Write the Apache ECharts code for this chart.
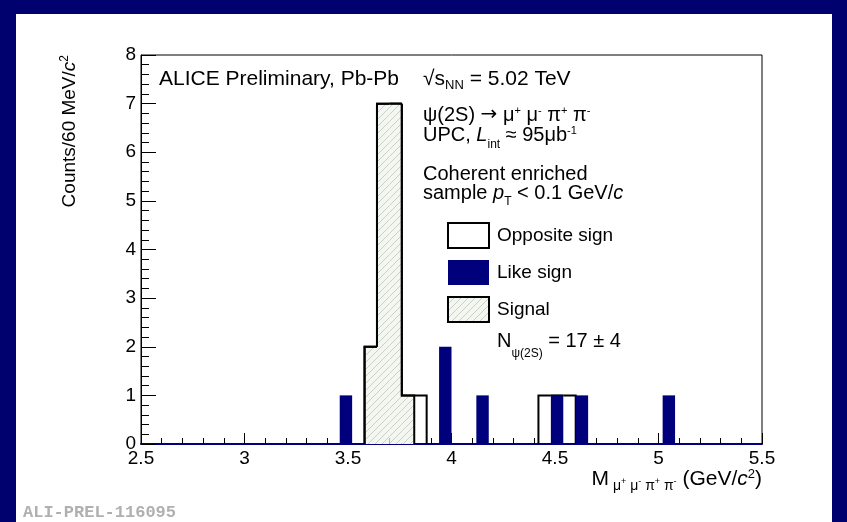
<!DOCTYPE html>
<html><head><meta charset="utf-8">
<script src="https://cdn.jsdelivr.net/npm/echarts@6/dist/echarts.min.js"></script>
<style>html,body{margin:0;padding:0;background:#00006e;}#c{width:847px;height:522px;}</style>
</head><body><div id="c"></div>
<script>
// ---- data (60 MeV bins, low edges in GeV/c^2) ----
const binWidth = 0.06;
const oppositeSignEdges  = [3.58, 3.64, 3.70, 3.76, 3.82, 4.42, 4.48, 4.54];
const oppositeSignCounts = [2, 7, 7, 1, 1, 1, 1, 1];
const likeSignEdges      = [3.46, 3.94, 4.12, 4.48, 4.60, 5.02];
const likeSignCounts     = [1, 2, 1, 1, 1, 1];
const signalEdges        = [3.58, 3.64, 3.70, 3.76];
const signalCounts       = [2, 7, 7, 1];
const seriesNames = ['Opposite sign', 'Like sign', 'Signal'];

const FF = 'Liberation Sans, Arial, Helvetica, sans-serif';
const NAVY = '#00007c';

function hatchCanvas() {
  const s = 7, cv = document.createElement('canvas');
  cv.width = s; cv.height = s;
  const g = cv.getContext('2d');
  g.fillStyle = '#f3f6f1'; g.fillRect(0, 0, s, s);
  g.strokeStyle = '#c6d3c1'; g.lineWidth = 1;
  g.beginPath();
  g.moveTo(0, s); g.lineTo(s, 0);
  g.moveTo(-1, 1); g.lineTo(1, -1);
  g.moveTo(s - 1, s + 1); g.lineTo(s + 1, s - 1);
  g.stroke();
  return cv;
}
const hatch = { image: hatchCanvas(), repeat: 'repeat' };

function adjacent(a, b) { return Math.abs(a + binWidth - b) < 1e-6; }

// step outline for one bin of a histogram
function outline(api, edges, counts, idx) {
  const e = edges[idx], c = counts[idx];
  const prev = (idx > 0 && adjacent(edges[idx - 1], e)) ? counts[idx - 1] : 0;
  const hasNext = idx < edges.length - 1 && adjacent(e, edges[idx + 1]);
  const pts = [api.coord([e, prev]), api.coord([e, c]), api.coord([e + binWidth, c])];
  if (!hasNext) pts.push(api.coord([e + binWidth, 0]));
  return { type: 'polyline', shape: { points: pts },
           style: { stroke: '#000', lineWidth: 2, fill: null, lineJoin: 'miter' } };
}
function binRect(api, e, c) {
  const p0 = api.coord([e, 0]), p1 = api.coord([e + binWidth, c]);
  return { x: p0[0], y: p1[1], width: p1[0] - p0[0], height: p0[1] - p1[1] };
}

// rich text styles: L = line height, subOff/supOff = offsets from main centre
function mkRich(size, L, subSize, subOff, supSize, supOff, ssSize, ssOff) {
  const base = { fontFamily: FF, fill: '#000' };
  const ssO = ssOff || 3;
  return {
    m:   Object.assign({}, base, { fontSize: size, lineHeight: L, verticalAlign: 'middle' }),
    a:   Object.assign({}, base, { fontSize: size, lineHeight: L, verticalAlign: 'middle', fontFamily: 'DejaVu Sans, sans-serif' }),
    i:   Object.assign({}, base, { fontSize: size, lineHeight: L, verticalAlign: 'middle', fontStyle: 'italic' }),
    sub: Object.assign({}, base, { fontSize: subSize, lineHeight: L, height: L - 2 * subOff, verticalAlign: 'bottom' }),
    sup: Object.assign({}, base, { fontSize: supSize, lineHeight: L, height: L - 2 * supOff, verticalAlign: 'top' }),
    ss:  Object.assign({}, base, { fontSize: ssSize || 8, lineHeight: L, height: L - 2 * ssO, verticalAlign: 'bottom' })
  };
}
function txt(x, y, text, rich, align, extra) {
  return Object.assign({ type: 'text', x: x, y: y, z: 50,
    style: { text: text, rich: rich, align: align || 'left', verticalAlign: 'middle',
             fontFamily: FF, fill: '#000' } }, extra || {});
}

const chart = echarts.init(document.getElementById('c'), null, { renderer: 'canvas' });

const option = {
  backgroundColor: '#00006e',
  animation: false,
  grid: { left: 141, top: 55, right: 85, bottom: 78, show: true,
          borderColor: '#000', borderWidth: 1, backgroundColor: 'transparent' },
  xAxis: {
    type: 'value', min: 2.5, max: 5.5, interval: 0.5,
    axisLine: { show: true, onZero: false, lineStyle: { color: NAVY, width: 2 } },
    axisTick: { show: true, inside: true, length: 11, lineStyle: { color: '#000', width: 1 } },
    minorTick: { show: true, splitNumber: 5, length: 6, lineStyle: { color: '#000', width: 1 } },
    splitLine: { show: false },
    axisLabel: { fontSize: 19, fontFamily: FF, color: '#000', margin: 5,
                 showMinLabel: true, showMaxLabel: true }
  },
  yAxis: {
    type: 'value', min: 0, max: 8, interval: 1,
    axisLine: { show: true, lineStyle: { color: '#000', width: 1 } },
    axisTick: { show: true, inside: true, length: 15, lineStyle: { color: '#000', width: 1 } },
    minorTick: { show: true, splitNumber: 5, length: 8, lineStyle: { color: '#000', width: 1 } },
    splitLine: { show: false },
    axisLabel: { fontSize: 19, fontFamily: FF, color: '#000', margin: 5,
                 showMinLabel: true, showMaxLabel: true }
  },
  legend: {
    data: seriesNames.map(n => ({ name: n, icon: 'rect' })),
    orient: 'vertical', left: 447, top: 222, padding: 0,
    itemWidth: 41, itemHeight: 25, itemGap: 11, selectedMode: false,
    textStyle: { fontSize: 19, fontFamily: FF, color: '#000', padding: [0, 0, 0, 3] }
  },
  series: [
    {
      name: 'Signal', type: 'custom', z: 2,
      itemStyle: { color: hatch, borderColor: '#000', borderWidth: 2 },
      encode: { x: 0, y: 1 },
      data: signalEdges.map((e, i) => [e, signalCounts[i]]),
      renderItem: function (params, api) {
        const i = params.dataIndex;
        return { type: 'group', children: [
          { type: 'rect', shape: binRect(api, signalEdges[i], signalCounts[i]),
            style: { fill: hatch, stroke: null } },
          outline(api, signalEdges, signalCounts, i)
        ] };
      }
    },
    {
      name: 'Opposite sign', type: 'custom', z: 3,
      itemStyle: { color: '#fff', borderColor: '#000', borderWidth: 2 },
      encode: { x: 0, y: 1 },
      data: oppositeSignEdges.map((e, i) => [e, oppositeSignCounts[i]]),
      renderItem: function (params, api) {
        return outline(api, oppositeSignEdges, oppositeSignCounts, params.dataIndex);
      }
    },
    {
      name: 'Like sign', type: 'custom', z: 4,
      itemStyle: { color: NAVY },
      encode: { x: 0, y: 1 },
      data: likeSignEdges.map((e, i) => [e, likeSignCounts[i]]),
      renderItem: function (params, api) {
        const i = params.dataIndex;
        return { type: 'rect', shape: binRect(api, likeSignEdges[i], likeSignCounts[i]),
                 style: { fill: NAVY, stroke: null } };
      }
    }
  ],
  graphic: [
    { type: 'rect', z: -100, shape: { x: 16, y: 14, width: 816, height: 508 }, style: { fill: '#fff' } },
    txt(159, 79, '{m|ALICE Preliminary, Pb-Pb}', mkRich(21, 24, 13, 6, 11, 5)),
    txt(423, 79, '{m|√s}{sub|NN}{m| = 5.02 TeV}', mkRich(21, 24, 13, 6, 11, 5)),
    txt(423, 115, '{m|ψ(2S) }{a|→}{m| μ}{sup|+}{m| μ}{sup|-}{m| π}{sup|+}{m| π}{sup|-}', mkRich(20, 26, 12, 6, 11, 4)),
    txt(423, 135, '{m|UPC, }{i|L}{sub|int}{m| ≈ 95μb}{sup|-1}', mkRich(20, 30, 12, 10, 11, 4)),
    txt(423, 174, '{m|Coherent enriched}', mkRich(20, 26, 12, 6, 12, 5)),
    txt(423, 193, '{m|sample }{i|p}{sub|T}{m| < 0.1 GeV/}{i|c}', mkRich(20, 30, 12, 9, 12, 5)),
    txt(497, 341, '{m|N}{sub|ψ(2S)}{m| = 17 ± 4}', mkRich(20, 38, 12, 13, 12, 5)),
    txt(762, 479, '{m|M}{sub| μ}{ss|+}{sub| μ}{ss|-}{sub| π}{ss|+}{sub| π}{ss|-}{m| (GeV/}{i|c}{sup|2}{m|)}',
        mkRich(21, 30, 14, 7, 13, 5, 9, 3), 'right'),
    txt(70, 55, '{m|Counts/60 MeV/}{i|c}{sup|2}', mkRich(19, 24, 12, 6, 12, 5), 'right',
        { rotation: Math.PI / 2 }),
    { type: 'text', x: 23, y: 513, z: 50,
      style: { text: 'ALI-PREL-116095', fontFamily: 'Liberation Mono, Courier New, monospace',
               fontWeight: 'bold', fontSize: 17, fill: '#b0b0b0', align: 'left', verticalAlign: 'middle' } }
  ]
};
chart.setOption(option);
</script>
</body></html>
